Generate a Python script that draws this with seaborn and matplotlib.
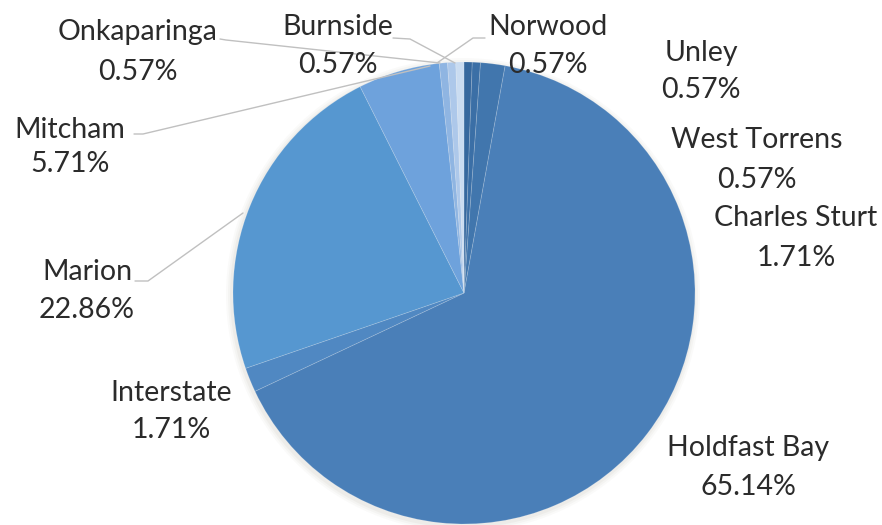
import matplotlib
matplotlib.use("Agg")
import matplotlib.pyplot as plt
import seaborn as sns

# Share of records by council area (clockwise from 12 o'clock)
regions = ["Unley", "West Torrens", "Charles Sturt", "Holdfast Bay", "Interstate",
           "Marion", "Mitcham", "Onkaparinga", "Burnside", "Norwood"]
shares = [0.57, 0.57, 1.71, 65.14, 1.71, 22.86, 5.71, 0.57, 0.57, 0.57]
slice_colors = ["#36689e", "#3b6fa6", "#4176ad", "#4a7fb8", "#5088c2",
                "#5697d0", "#6ea2dc", "#8fb5e2", "#adc8ea", "#cadcf1"]

sns.set_theme(style="white")
plt.rcParams["font.family"] = ["Lato", "DejaVu Sans"]

W, H = 882, 525
fig = plt.figure(figsize=(W / 100, H / 100), dpi=100)
ax = fig.add_axes([0, 0, 1, 1])

cx, cy, r = 464, H - 293, 231

# soft drop shadow behind the pie
for k, a in [(6, 0.03), (4, 0.04), (2, 0.05)]:
    ax.add_patch(plt.Circle((cx - 1, cy - 2), r + k, color="#7a6a55", alpha=a, lw=0, zorder=0))

palette = sns.color_palette(slice_colors)
wedges, _ = ax.pie(shares, colors=palette, startangle=90, counterclock=False,
                   center=(cx, cy), radius=r,
                   wedgeprops=dict(edgecolor=(1, 1, 1, 0.18), linewidth=0.6))
for w in wedges:
    w.set_zorder(2)

ax.set_xlim(0, W)
ax.set_ylim(0, H)
ax.set_aspect("equal")
ax.axis("off")

# label anchor points (name line, value line)
label_pos = {
    "Unley": (701, 53, 90),
    "West Torrens": (757, 140, 180),
    "Charles Sturt": (796, 218, 258),
    "Holdfast Bay": (748, 448, 487),
    "Interstate": (171, 393, 430),
    "Marion": (87, 272, 310),
    "Mitcham": (70, 130, 164),
    "Onkaparinga": (138, 32, 72),
    "Burnside": (338, 27, 65),
    "Norwood": (548, 27, 65),
}
txt_color = "#2b2b2b"
for name, val in zip(regions, shares):
    x, y1, y2 = label_pos[name]
    ax.text(x, H - y1, name, ha="center", va="center", fontsize=20.5, color=txt_color, zorder=5)
    ax.text(x, H - y2, f"{val:.2f}%", ha="center", va="center", fontsize=20.5, color=txt_color, zorder=5)

# leader lines
leaders = {
    "Onkaparinga": [(220, 39), (226, 40), (440, 63)],
    "Burnside": [(393, 38), (410, 39), (455, 63)],
    "Norwood": [(485, 38), (473, 38), (437, 63)],
    "Mitcham": [(134, 134), (143, 134), (430, 66)],
    "Marion": [(135, 281), (148, 281), (243, 213)],
}
for pts in leaders.values():
    xs = [p[0] for p in pts]
    ys = [H - p[1] for p in pts]
    ax.plot(xs, ys, color="#c0c0c0", lw=1.0, zorder=3)

fig.savefig("out.png", dpi=100)
